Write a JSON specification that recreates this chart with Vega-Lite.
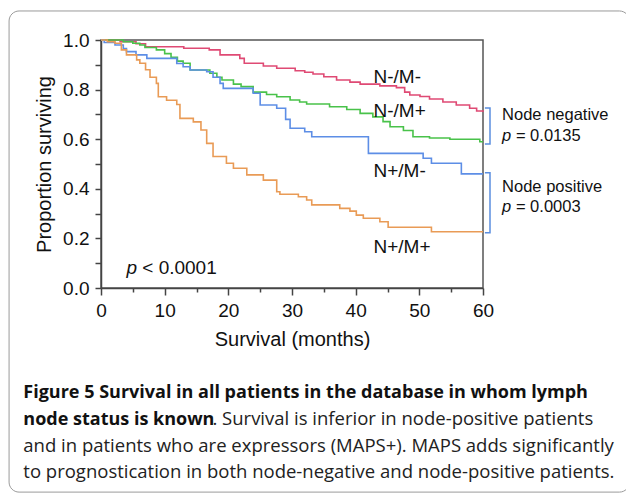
{
  "$schema": "https://vega.github.io/schema/vega-lite/v6.json",
  "width": 382,
  "height": 248,
  "autosize": {"type": "none"},
  "padding": {"left": 101, "top": 40, "right": 143, "bottom": 209},
  "background": "white",
  "config": {
    "view": {"stroke": "#555555", "strokeWidth": 1.5},
    "font": "Liberation Sans"
  },
  "datasets": {
    "curves": [
      {"group": "N-/M-", "t": 0, "s": 1}, {"group": "N-/M-", "t": 3, "s": 0.993}, {"group": "N-/M-", "t": 5.5, "s": 0.985}, {"group": "N-/M-", "t": 7, "s": 0.973}, {"group": "N-/M-", "t": 13, "s": 0.967}, {"group": "N-/M-", "t": 17, "s": 0.96}, {"group": "N-/M-", "t": 18.7, "s": 0.94}, {"group": "N-/M-", "t": 21.8, "s": 0.926}, {"group": "N-/M-", "t": 22.5, "s": 0.906}, {"group": "N-/M-", "t": 25.5, "s": 0.895}, {"group": "N-/M-", "t": 27.6, "s": 0.886}, {"group": "N-/M-", "t": 30.5, "s": 0.876}, {"group": "N-/M-", "t": 32, "s": 0.87}, {"group": "N-/M-", "t": 33.3, "s": 0.863}, {"group": "N-/M-", "t": 35, "s": 0.852}, {"group": "N-/M-", "t": 37, "s": 0.839}, {"group": "N-/M-", "t": 39.1, "s": 0.83}, {"group": "N-/M-", "t": 40.7, "s": 0.822}, {"group": "N-/M-", "t": 43.8, "s": 0.815}, {"group": "N-/M-", "t": 46.4, "s": 0.808}, {"group": "N-/M-", "t": 47.7, "s": 0.79}, {"group": "N-/M-", "t": 48.5, "s": 0.778}, {"group": "N-/M-", "t": 50.1, "s": 0.772}, {"group": "N-/M-", "t": 51.6, "s": 0.762}, {"group": "N-/M-", "t": 53.7, "s": 0.75}, {"group": "N-/M-", "t": 55.8, "s": 0.738}, {"group": "N-/M-", "t": 57.9, "s": 0.725}, {"group": "N-/M-", "t": 59, "s": 0.714}, {"group": "N-/M-", "t": 60, "s": 0.71},
      {"group": "N-/M+", "t": 0, "s": 1}, {"group": "N-/M+", "t": 3.5, "s": 0.993}, {"group": "N-/M+", "t": 5, "s": 0.987}, {"group": "N-/M+", "t": 6.1, "s": 0.98}, {"group": "N-/M+", "t": 6.9, "s": 0.97}, {"group": "N-/M+", "t": 8.7, "s": 0.96}, {"group": "N-/M+", "t": 10, "s": 0.945}, {"group": "N-/M+", "t": 11, "s": 0.93}, {"group": "N-/M+", "t": 12, "s": 0.915}, {"group": "N-/M+", "t": 12.9, "s": 0.906}, {"group": "N-/M+", "t": 14, "s": 0.879}, {"group": "N-/M+", "t": 17.1, "s": 0.866}, {"group": "N-/M+", "t": 18.2, "s": 0.85}, {"group": "N-/M+", "t": 19, "s": 0.839}, {"group": "N-/M+", "t": 20.8, "s": 0.822}, {"group": "N-/M+", "t": 22, "s": 0.812}, {"group": "N-/M+", "t": 23.9, "s": 0.79}, {"group": "N-/M+", "t": 26, "s": 0.78}, {"group": "N-/M+", "t": 27.6, "s": 0.771}, {"group": "N-/M+", "t": 29.7, "s": 0.758}, {"group": "N-/M+", "t": 31.2, "s": 0.75}, {"group": "N-/M+", "t": 32.3, "s": 0.742}, {"group": "N-/M+", "t": 35.9, "s": 0.731}, {"group": "N-/M+", "t": 38.6, "s": 0.72}, {"group": "N-/M+", "t": 40.7, "s": 0.704}, {"group": "N-/M+", "t": 42.7, "s": 0.69}, {"group": "N-/M+", "t": 44.3, "s": 0.671}, {"group": "N-/M+", "t": 45.4, "s": 0.65}, {"group": "N-/M+", "t": 47.5, "s": 0.635}, {"group": "N-/M+", "t": 49, "s": 0.61}, {"group": "N-/M+", "t": 51.6, "s": 0.605}, {"group": "N-/M+", "t": 54.8, "s": 0.6}, {"group": "N-/M+", "t": 59.5, "s": 0.59}, {"group": "N-/M+", "t": 60, "s": 0.59},
      {"group": "N+/M-", "t": 0, "s": 1}, {"group": "N+/M-", "t": 0.5, "s": 0.99}, {"group": "N+/M-", "t": 2.2, "s": 0.98}, {"group": "N+/M-", "t": 3.5, "s": 0.966}, {"group": "N+/M-", "t": 4, "s": 0.953}, {"group": "N+/M-", "t": 5.5, "s": 0.94}, {"group": "N+/M-", "t": 7.2, "s": 0.926}, {"group": "N+/M-", "t": 11.9, "s": 0.905}, {"group": "N+/M-", "t": 12.9, "s": 0.892}, {"group": "N+/M-", "t": 14, "s": 0.879}, {"group": "N+/M-", "t": 16.6, "s": 0.872}, {"group": "N+/M-", "t": 17.6, "s": 0.85}, {"group": "N+/M-", "t": 18.7, "s": 0.825}, {"group": "N+/M-", "t": 19.2, "s": 0.805}, {"group": "N+/M-", "t": 23.9, "s": 0.785}, {"group": "N+/M-", "t": 25, "s": 0.738}, {"group": "N+/M-", "t": 27.6, "s": 0.725}, {"group": "N+/M-", "t": 29, "s": 0.68}, {"group": "N+/M-", "t": 29.7, "s": 0.644}, {"group": "N+/M-", "t": 32, "s": 0.63}, {"group": "N+/M-", "t": 33.1, "s": 0.61}, {"group": "N+/M-", "t": 42, "s": 0.543}, {"group": "N+/M-", "t": 50.6, "s": 0.523}, {"group": "N+/M-", "t": 51.9, "s": 0.503}, {"group": "N+/M-", "t": 56.6, "s": 0.46}, {"group": "N+/M-", "t": 60, "s": 0.46},
      {"group": "N+/M+", "t": 0, "s": 1}, {"group": "N+/M+", "t": 1, "s": 0.993}, {"group": "N+/M+", "t": 2.2, "s": 0.987}, {"group": "N+/M+", "t": 3.2, "s": 0.96}, {"group": "N+/M+", "t": 4, "s": 0.94}, {"group": "N+/M+", "t": 5.6, "s": 0.92}, {"group": "N+/M+", "t": 6.1, "s": 0.906}, {"group": "N+/M+", "t": 7, "s": 0.88}, {"group": "N+/M+", "t": 7.7, "s": 0.85}, {"group": "N+/M+", "t": 8.7, "s": 0.825}, {"group": "N+/M+", "t": 9, "s": 0.771}, {"group": "N+/M+", "t": 10.3, "s": 0.757}, {"group": "N+/M+", "t": 11.9, "s": 0.74}, {"group": "N+/M+", "t": 12.4, "s": 0.684}, {"group": "N+/M+", "t": 14.5, "s": 0.67}, {"group": "N+/M+", "t": 15.7, "s": 0.637}, {"group": "N+/M+", "t": 16.6, "s": 0.583}, {"group": "N+/M+", "t": 17.6, "s": 0.53}, {"group": "N+/M+", "t": 19.7, "s": 0.503}, {"group": "N+/M+", "t": 20.8, "s": 0.483}, {"group": "N+/M+", "t": 22.9, "s": 0.456}, {"group": "N+/M+", "t": 25.5, "s": 0.435}, {"group": "N+/M+", "t": 27.6, "s": 0.388}, {"group": "N+/M+", "t": 28.1, "s": 0.378}, {"group": "N+/M+", "t": 31, "s": 0.368}, {"group": "N+/M+", "t": 32.3, "s": 0.355}, {"group": "N+/M+", "t": 33.1, "s": 0.335}, {"group": "N+/M+", "t": 37.5, "s": 0.321}, {"group": "N+/M+", "t": 39.1, "s": 0.31}, {"group": "N+/M+", "t": 40.1, "s": 0.294}, {"group": "N+/M+", "t": 41.2, "s": 0.281}, {"group": "N+/M+", "t": 43.8, "s": 0.267}, {"group": "N+/M+", "t": 45.1, "s": 0.245}, {"group": "N+/M+", "t": 51.9, "s": 0.227}, {"group": "N+/M+", "t": 60, "s": 0.227}
    ],
    "curveLabels": [
      {"text": "N-/M-", "t": 42.8, "s": 0.852},
      {"text": "N-/M+", "t": 42.8, "s": 0.714},
      {"text": "N+/M-", "t": 42.8, "s": 0.473},
      {"text": "N+/M+", "t": 42.8, "s": 0.167}
    ],
    "brackets": [
      {"b": "neg", "o": 1, "t": 60.3, "s": 0.726}, {"b": "neg", "o": 2, "t": 61.1, "s": 0.726}, {"b": "neg", "o": 3, "t": 61.1, "s": 0.581}, {"b": "neg", "o": 4, "t": 60.3, "s": 0.581},
      {"b": "pos", "o": 1, "t": 60.3, "s": 0.465}, {"b": "pos", "o": 2, "t": 61.1, "s": 0.465}, {"b": "pos", "o": 3, "t": 61.1, "s": 0.223}, {"b": "pos", "o": 4, "t": 60.3, "s": 0.223}
    ],
    "nodeNotes": [
      {"text": "Node negative", "t": 63.0, "s": 0.698},
      {"text": "Node positive", "t": 63.0, "s": 0.409}
    ],
    "nodeP": [
      {"text": "p", "rest": "= 0.0135", "t": 63.0, "s": 0.613},
      {"text": "p", "rest": "= 0.0003", "t": 63.0, "s": 0.328}
    ],
    "overallP": [
      {"text": "p", "rest": "< 0.0001", "t": 4.0, "s": 0.079}
    ],
    "frame": [
      {"t": -14.44, "t2": 83, "s": 1.117, "s2": -0.823}
    ],
    "captionBold": [
      {"text": "Figure 5 Survival in all patients in the database in whom lymph", "t": -12.2, "s": -0.4435},
      {"text": "node status is known", "t": -12.2, "s": -0.5524}
    ],
    "captionRegular": [
      {"text": ". Survival is inferior in node-positive patients", "t": 17.5, "s": -0.5524},
      {"text": "and in patients who are expressors (MAPS+). MAPS adds significantly", "t": -12.2, "s": -0.6593},
      {"text": "to prognostication in both node-negative and node-positive patients.", "t": -12.2, "s": -0.7661}
    ]
  },
  "encoding": {
    "x": {
      "field": "t",
      "type": "quantitative",
      "scale": {"domain": [0, 60], "nice": false, "zero": false},
      "axis": {
        "title": "Survival (months)",
        "values": [0, 5, 10, 15, 20, 25, 30, 35, 40, 45, 50, 55, 60],
        "labelExpr": "datum.value % 10 === 0 ? datum.label : ''",
        "tickSize": {"condition": {"test": "datum.value % 10 === 0", "value": 7}, "value": 4},
        "grid": false,
        "labelFlush": false,
        "labelOverlap": false,
        "labelFont": "Liberation Sans",
        "labelFontSize": 19,
        "labelColor": "#111111",
        "labelPadding": 6,
        "titleFont": "Liberation Sans",
        "titleFontSize": 20,
        "titleFontWeight": "normal",
        "titleColor": "#111111",
        "titlePadding": 9,
        "domainColor": "#444444",
        "domainWidth": 1.5,
        "tickColor": "#444444",
        "tickWidth": 1.5
      }
    },
    "y": {
      "field": "s",
      "type": "quantitative",
      "scale": {"domain": [0, 1], "nice": false, "zero": false},
      "axis": {
        "title": "Proportion surviving",
        "values": [0, 0.1, 0.2, 0.3, 0.4, 0.5, 0.6, 0.7, 0.8, 0.9, 1.0],
        "labelExpr": "round(datum.value * 10) % 2 === 0 ? format(datum.value, '.1f') : ''",
        "tickSize": 6,
        "grid": false,
        "labelFlush": false,
        "labelOverlap": false,
        "labelFont": "Liberation Sans",
        "labelFontSize": 19,
        "labelColor": "#111111",
        "labelPadding": 6,
        "titleFont": "Liberation Sans",
        "titleFontSize": 20,
        "titleFontWeight": "normal",
        "titleColor": "#111111",
        "titlePadding": 8,
        "domainColor": "#444444",
        "domainWidth": 1.5,
        "tickColor": "#444444",
        "tickWidth": 1.5
      }
    }
  },
  "layer": [
    {
      "data": {"name": "frame"},
      "mark": {"type": "rect", "fill": "transparent", "stroke": "#9a9a9a", "strokeWidth": 1, "cornerRadius": 10, "clip": false},
      "encoding": {"x2": {"field": "t2"}, "y2": {"field": "s2"}}
    },
    {
      "data": {"name": "curves"},
      "mark": {"type": "line", "interpolate": "step-after", "strokeWidth": 1.6},
      "encoding": {
        "color": {
          "field": "group",
          "type": "nominal",
          "scale": {"domain": ["N-/M-", "N-/M+", "N+/M-", "N+/M+"], "range": ["#df4a74", "#49c24a", "#5d8ee6", "#e99b56"]},
          "legend": null
        }
      }
    },
    {
      "data": {"name": "brackets"},
      "mark": {"type": "line", "color": "#5b8ee0", "strokeWidth": 1.5, "clip": false},
      "encoding": {"detail": {"field": "b"}, "order": {"field": "o", "type": "quantitative"}}
    },
    {
      "data": {"name": "curveLabels"},
      "mark": {"type": "text", "align": "left", "baseline": "middle", "font": "Liberation Sans", "fontSize": 19, "color": "#111111"},
      "encoding": {"text": {"field": "text"}}
    },
    {
      "data": {"name": "nodeNotes"},
      "mark": {"type": "text", "align": "left", "baseline": "middle", "font": "Liberation Sans", "fontSize": 16.5, "color": "#111111", "clip": false},
      "encoding": {"text": {"field": "text"}}
    },
    {
      "data": {"name": "nodeP"},
      "mark": {"type": "text", "align": "left", "baseline": "middle", "font": "Liberation Sans", "fontSize": 16.5, "fontStyle": "italic", "color": "#111111", "clip": false},
      "encoding": {"text": {"field": "text"}}
    },
    {
      "data": {"name": "nodeP"},
      "mark": {"type": "text", "align": "left", "baseline": "middle", "font": "Liberation Sans", "fontSize": 16.5, "dx": 13.8, "color": "#111111", "clip": false},
      "encoding": {"text": {"field": "rest"}}
    },
    {
      "data": {"name": "overallP"},
      "mark": {"type": "text", "align": "left", "baseline": "middle", "font": "Liberation Sans", "fontSize": 19, "fontStyle": "italic", "color": "#111111"},
      "encoding": {"text": {"field": "text"}}
    },
    {
      "data": {"name": "overallP"},
      "mark": {"type": "text", "align": "left", "baseline": "middle", "font": "Liberation Sans", "fontSize": 19, "dx": 15.8, "color": "#111111"},
      "encoding": {"text": {"field": "rest"}}
    },
    {
      "data": {"name": "captionBold"},
      "mark": {"type": "text", "align": "left", "baseline": "alphabetic", "font": "Open Sans", "fontSize": 18, "fontWeight": "bold", "color": "#111111", "clip": false},
      "encoding": {"text": {"field": "text"}}
    },
    {
      "data": {"name": "captionRegular"},
      "mark": {"type": "text", "align": "left", "baseline": "alphabetic", "font": "Open Sans", "fontSize": 18.5, "color": "#222222", "clip": false},
      "encoding": {"text": {"field": "text"}}
    }
  ]
}
